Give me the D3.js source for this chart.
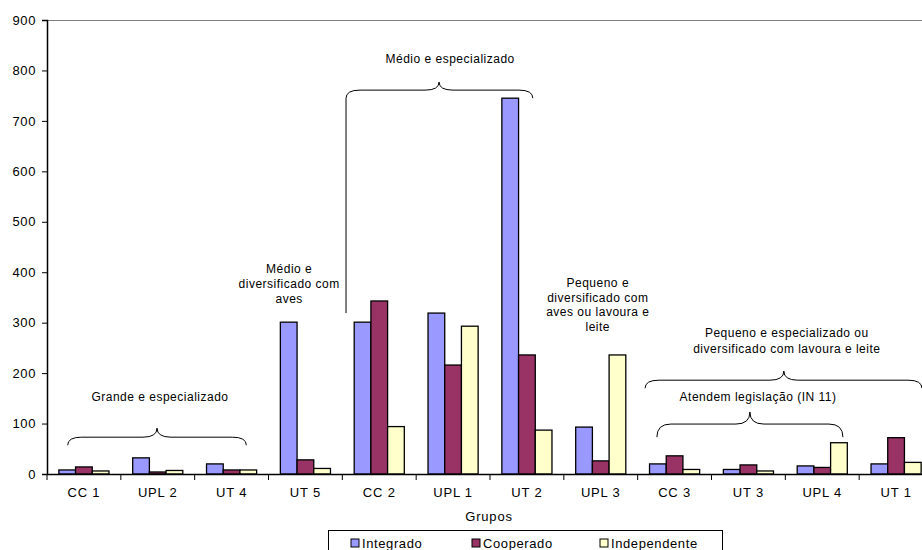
<!DOCTYPE html>
<html>
<head>
<meta charset="utf-8">
<script src="https://cdn.jsdelivr.net/npm/d3@7"></script>
<style>
  html, body { margin: 0; padding: 0; background: #fff; }
  svg { display: block; font-family: "Liberation Sans", Arial, sans-serif; }
</style>
</head>
<body>
<svg id="chart" width="922" height="550"></svg>
<script>
// Groups on the x axis
const categories = ["CC 1", "UPL 2", "UT 4", "UT 5", "CC 2", "UPL 1", "UT 2", "UPL 3", "CC 3", "UT 3", "UPL 4", "UT 1"];
// Series
const seriesNames = ["Integrado", "Cooperado", "Independente"];
const integrado    = [8, 32, 20, 301, 301, 319, 745, 93, 20, 9, 16, 20];
const cooperado    = [14, 4, 8, 28, 343, 216, 236, 26, 36, 18, 13, 72];
const independente = [6, 7, 8, 11, 94, 293, 87, 236, 9, 6, 62, 23];
const seriesColors = ["#9999FF", "#993366", "#FFFFCC"];
const yTicks = [0, 100, 200, 300, 400, 500, 600, 700, 800, 900];

const seriesValues = [integrado, cooperado, independente];
const table = categories.map((c, i) => ({
  cat: c,
  vals: seriesNames.map((s, k) => ({ key: s, value: seriesValues[k][i], color: seriesColors[k] }))
}));

const svg = d3.select("#chart");
const plot = { left: 47, top: 20, right: 933, bottom: 474 };

const x = d3.scaleBand().domain(categories).range([plot.left, plot.right]).paddingInner(0).paddingOuter(0);
const xInner = d3.scaleBand().domain(seriesNames).range([0, x.bandwidth()]).paddingInner(0).paddingOuter(0.71);
const y = d3.scaleLinear().domain([0, 900]).range([plot.bottom, plot.top]);
// fractional group position, used to place braces and notes
const slot = d3.scaleLinear().domain([0, categories.length]).range([plot.left, plot.right]);

// plot area top border
svg.append("line")
  .attr("x1", plot.left).attr("x2", plot.right)
  .attr("y1", plot.top + 0.5).attr("y2", plot.top + 0.5)
  .attr("stroke", "#808080").attr("stroke-width", 1);

// bars
const groups = svg.append("g").selectAll("g").data(table).join("g")
  .attr("transform", d => `translate(${x(d.cat)},0)`);
groups.selectAll("rect").data(d => d.vals).join("rect")
  .attr("x", d => xInner(d.key))
  .attr("y", d => y(d.value))
  .attr("width", xInner.bandwidth())
  .attr("height", d => y(0) - y(d.value))
  .attr("fill", d => d.color)
  .attr("stroke", "#000").attr("stroke-width", 1.3);

// y axis
const yAxis = svg.append("g").attr("transform", `translate(${plot.left},0)`)
  .call(d3.axisLeft(y).tickValues(yTicks).tickSize(5).tickPadding(6));
yAxis.select(".domain").attr("stroke", "#000").attr("stroke-width", 1.5);
yAxis.selectAll(".tick line").attr("stroke", "#000");
yAxis.selectAll("text").attr("font-size", 13).attr("fill", "#000")
  .style("font-family", "Liberation Sans, Arial, sans-serif").style("letter-spacing", "0.6px");

// x axis with ticks at group boundaries
const xAxis = svg.append("g").attr("transform", `translate(0,${plot.bottom})`)
  .call(d3.axisBottom(x).tickSize(0).tickPadding(14));
xAxis.select(".domain").attr("stroke", "#000").attr("stroke-width", 1.5);
xAxis.selectAll("text").attr("font-size", 13).attr("fill", "#000")
  .style("font-family", "Liberation Sans, Arial, sans-serif").style("letter-spacing", "0.8px");
xAxis.selectAll(".sep").data(d3.range(categories.length + 1)).join("line")
  .attr("class", "sep")
  .attr("x1", i => slot(i)).attr("x2", i => slot(i))
  .attr("y1", 0).attr("y2", 6)
  .attr("stroke", "#000");

// axis title
svg.append("text")
  .attr("x", 489).attr("y", 521)
  .attr("text-anchor", "middle")
  .attr("font-size", 13).style("letter-spacing", "0.8px")
  .text("Grupos");

// curly brace: from slot a to slot b, ends at value yEnd, bar at yBar, tip at yTip
function brace(a, b, m, yEnd, yBar, yTip) {
  const x1 = slot(a), x2 = slot(b), xm = slot(m);
  const e = y(yEnd), h = y(yBar), t = y(yTip);
  const r = 14;
  const p = d3.path();
  p.moveTo(x1, e);
  p.quadraticCurveTo(x1, h, x1 + r, h);
  p.lineTo(xm - r, h);
  p.quadraticCurveTo(xm, h, xm, t);
  p.quadraticCurveTo(xm, h, xm + r, h);
  p.lineTo(x2 - r, h);
  p.quadraticCurveTo(x2, h, x2, e);
  svg.append("path").attr("d", p.toString())
    .attr("fill", "none").attr("stroke", "#000").attr("stroke-width", 1);
}

function note(pos, value, lines, lh) {
  const t = svg.append("text")
    .attr("text-anchor", "middle")
    .attr("font-size", 12).style("letter-spacing", "0.5px")
    .attr("fill", "#000");
  lines.forEach((ln, i) => {
    t.append("tspan").attr("x", slot(pos)).attr("y", y(value) + i * lh).text(ln);
  });
}

// Grande e especializado
brace(0.28, 2.70, 1.49, 57, 73, 91);
note(1.53, 145, ["Grande e especializado"], 15);

// Médio e especializado
brace(4.05, 6.58, 5.31, 745, 761, 777);
svg.append("line")
  .attr("x1", slot(4.05)).attr("x2", slot(4.05))
  .attr("y1", y(745)).attr("y2", y(319))
  .attr("stroke", "#000").attr("stroke-width", 1);
note(5.46, 815, ["Médio e especializado"], 15);

// Médio e diversificado com aves
note(3.28, 399, ["Médio e", "diversificado com", "aves"], 15);

// Pequeno e diversificado
note(7.46, 370, ["Pequeno e", "diversificado com", "aves ou lavoura e", "leite"], 14.5);

// Pequeno e especializado ou diversificado
brace(8.10, 11.85, 9.98, 170, 186, 204);
note(10.02, 272, ["Pequeno e especializado ou", "diversificado com lavoura e leite"], 16);

// Atendem legislação
brace(8.26, 10.78, 9.52, 73, 99, 123);
note(9.63, 145, ["Atendem legislação (IN 11)"], 15);

// legend
const legend = svg.append("g");
legend.append("rect")
  .attr("x", 328.5).attr("y", 530.5).attr("width", 394).attr("height", 30)
  .attr("fill", "#fff").attr("stroke", "#000").attr("stroke-width", 1);
const legendX = [351, 472, 600];
const items = legend.selectAll("g.item").data(seriesNames).join("g")
  .attr("class", "item")
  .attr("transform", (d, i) => `translate(${legendX[i]},539)`);
items.append("rect")
  .attr("width", 8).attr("height", 8)
  .attr("fill", (d, i) => seriesColors[i])
  .attr("stroke", "#000").attr("stroke-width", 1);
items.append("text")
  .attr("x", 11).attr("y", 9)
  .attr("font-size", 13).style("letter-spacing", "0.6px")
  .text(d => d);
</script>
</body>
</html>
